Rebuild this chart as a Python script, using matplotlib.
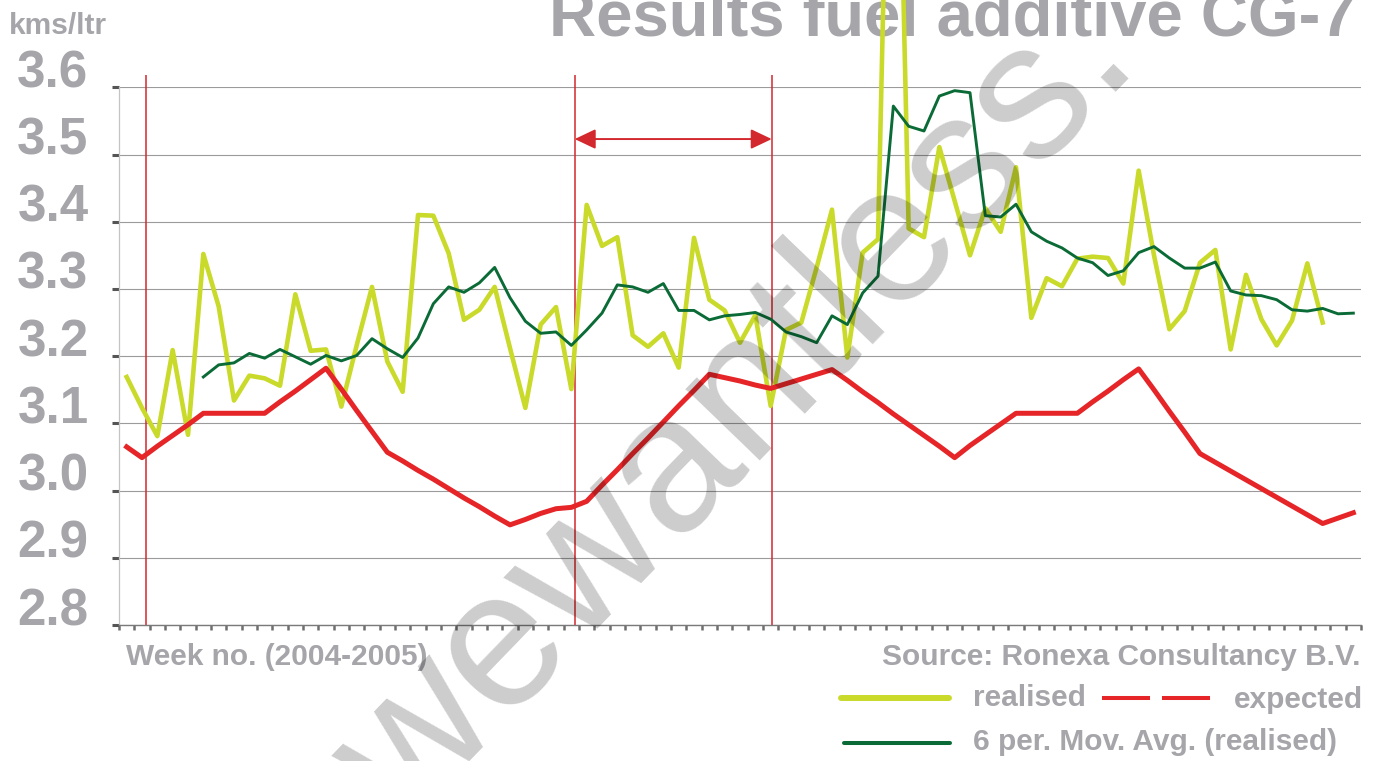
import numpy as np
import matplotlib
matplotlib.use("Agg")
import matplotlib.pyplot as plt
from matplotlib.lines import Line2D

plt.rcParams['font.family'] = ['Liberation Sans', 'DejaVu Sans']

# kms per litre, one value per week (2004-2005)
realised = [3.169, 3.123, 3.081, 3.209, 3.083, 3.352, 3.274, 3.134, 3.171, 3.167,
            3.156, 3.292, 3.208, 3.210, 3.125, 3.216, 3.303, 3.192, 3.147, 3.410,
            3.409, 3.353, 3.254, 3.269, 3.303, 3.212, 3.123, 3.247, 3.273, 3.151,
            3.425, 3.364, 3.377, 3.231, 3.214, 3.234, 3.183, 3.376, 3.284, 3.268,
            3.220, 3.261, 3.126, 3.239, 3.250, 3.332, 3.418, 3.198, 3.354, 3.374,
            4.400, 3.390, 3.377, 3.511, 3.431, 3.350, 3.420, 3.385, 3.481, 3.257,
            3.316, 3.304, 3.345, 3.348, 3.346, 3.308, 3.476, 3.350, 3.240, 3.267,
            3.339, 3.358, 3.210, 3.321, 3.255, 3.216, 3.253, 3.338, 3.250]

expected = [3.065, 3.049, 3.066, 3.082, 3.098, 3.115, 3.115, 3.115, 3.115, 3.115,
            3.132, 3.148, 3.165, 3.182, 3.151, 3.119, 3.088, 3.057, 3.044, 3.030,
            3.017, 3.003, 2.989, 2.976, 2.962, 2.949, 2.957, 2.966, 2.973, 2.975,
            2.984, 3.008, 3.031, 3.055, 3.078, 3.102, 3.126, 3.149, 3.173, 3.168,
            3.163, 3.157, 3.152, 3.159, 3.166, 3.173, 3.180, 3.164, 3.147, 3.131,
            3.114, 3.098, 3.082, 3.066, 3.049, 3.067, 3.083, 3.099, 3.115, 3.115,
            3.115, 3.115, 3.115, 3.132, 3.148, 3.165, 3.181, 3.150, 3.118, 3.087,
            3.055, 3.042, 3.029, 3.016, 3.003, 2.990, 2.977, 2.964, 2.951, 2.959,
            2.967]

mov_avg = [np.nan] * 5 + [
            3.169, 3.187, 3.190, 3.204, 3.197, 3.210, 3.199, 3.188, 3.201, 3.193,
            3.201, 3.226, 3.211, 3.198, 3.227, 3.278, 3.303, 3.295, 3.309, 3.332,
            3.287, 3.252, 3.234, 3.236, 3.216, 3.239, 3.264, 3.306, 3.303, 3.295,
            3.308, 3.268, 3.268, 3.254, 3.260, 3.262, 3.265, 3.255, 3.236, 3.229,
            3.220, 3.260, 3.247, 3.294, 3.319, 3.572, 3.542, 3.535, 3.587, 3.595,
            3.592, 3.409, 3.407, 3.426, 3.385, 3.371, 3.361, 3.346, 3.339, 3.320,
            3.327, 3.354, 3.363, 3.346, 3.331, 3.331, 3.340, 3.297, 3.291, 3.290,
            3.284, 3.269, 3.267, 3.271, 3.263, 3.264]

period_marks = [1.26, 29.22, 42.07]   # week positions of the red markers
yticks = [2.8, 2.9, 3.0, 3.1, 3.2, 3.3, 3.4, 3.5, 3.6]

GREY = '#a5a5aa'
YELLOW = '#c9da2b'
RED = '#e52528'
RED_THIN = '#d2282e'
GREEN = '#0b6b36'

W, H = 1383, 761
def fx(x): return x / W
def fy(y): return 1 - y / H

fig = plt.figure(figsize=(W / 100, H / 100), dpi=100)
ax = fig.add_axes([fx(119), fy(625), (1361 - 119) / W, (625 - 87.3) / H])
ax.set_facecolor('none')

ax.plot(np.arange(len(realised)), realised, color=YELLOW, lw=3.3, clip_on=False, zorder=3)
ax.plot(np.arange(len(expected)), expected, color=RED, lw=3.6, zorder=4)
ax.plot(np.arange(len(mov_avg)), mov_avg, color=GREEN, lw=2.1, zorder=5)

ax.vlines(period_marks, 2.8, 3.618, color=RED_THIN, lw=1.1, clip_on=False, zorder=2)
ax.annotate('', xy=(period_marks[2], 3.523), xytext=(period_marks[1], 3.523),
            arrowprops=dict(arrowstyle='<|-|>,head_length=0.4,head_width=0.19',
                            mutation_scale=32, color=RED_THIN, lw=1.4,
                            shrinkA=0, shrinkB=0))

ax.set_xlim(-0.5, 80.5)
ax.set_ylim(2.8, 3.6)

ax.set_yticks(yticks)
ax.set_yticklabels([f'{v:.1f}' for v in yticks])
for lab in ax.get_yticklabels():
    lab.set_verticalalignment('baseline')
    lab.set_fontweight('bold')
ax.tick_params(axis='y', length=5, width=2.2, color='#555555', pad=17,
               labelsize=36.8, labelcolor=GREY)

ax.set_xticks(np.arange(len(expected) + 1) - 0.5)
ax.set_xticklabels([])
ax.tick_params(axis='x', length=3.6, width=1.8, color='#6e6e6e', direction='out')

ax.yaxis.grid(True, color='#9b9b9b', lw=0.8)
ax.set_axisbelow(True)
for s in ['top', 'right']:
    ax.spines[s].set_visible(False)
ax.spines['left'].set_color('#c4c4c4')
ax.spines['left'].set_linewidth(0.9)
ax.spines['bottom'].set_color('#7a7a7a')
ax.spines['bottom'].set_linewidth(1.0)

txt = dict(color=GREY, fontweight='bold', va='baseline')
fig.text(fx(1357), fy(35), 'Results fuel additive CG-7', fontsize=47, ha='right', zorder=-1, **txt)
fig.text(fx(9), fy(34), 'kms/ltr', fontsize=21.5, ha='left', **txt)
fig.text(fx(126), fy(665), 'Week no. (2004-2005)', fontsize=21.5, ha='left', **txt)
fig.text(fx(1360), fy(665), 'Source: Ronexa Consultancy B.V.', fontsize=21.5, ha='right', **txt)
fig.text(fx(973), fy(706), 'realised', fontsize=21.5, ha='left', **txt)
fig.text(fx(1234), fy(708), 'expected', fontsize=21.5, ha='left', **txt)
fig.text(fx(973), fy(750), '6 per. Mov. Avg. (realised)', fontsize=21.5, ha='left', **txt)

# legend keys
fig.add_artist(Line2D([fx(841), fx(949)], [fy(697.7)] * 2, color=YELLOW, lw=4.3,
                      solid_capstyle='round'))
fig.add_artist(Line2D([fx(1104), fx(1148)], [fy(697.7)] * 2, color=RED, lw=2.9))
fig.add_artist(Line2D([fx(1164), fx(1208)], [fy(697.7)] * 2, color=RED, lw=2.9))
fig.add_artist(Line2D([fx(844), fx(950)], [fy(743.3)] * 2, color=GREEN, lw=2.9,
                      solid_capstyle='round'))

# watermark
fig.text(fx(774), fy(446), 'wewantless.', fontsize=140, rotation=46,
         rotation_mode='anchor', ha='center', va='baseline', color='black',
         alpha=0.2, zorder=10)

fig.savefig('out.png', dpi=100)
